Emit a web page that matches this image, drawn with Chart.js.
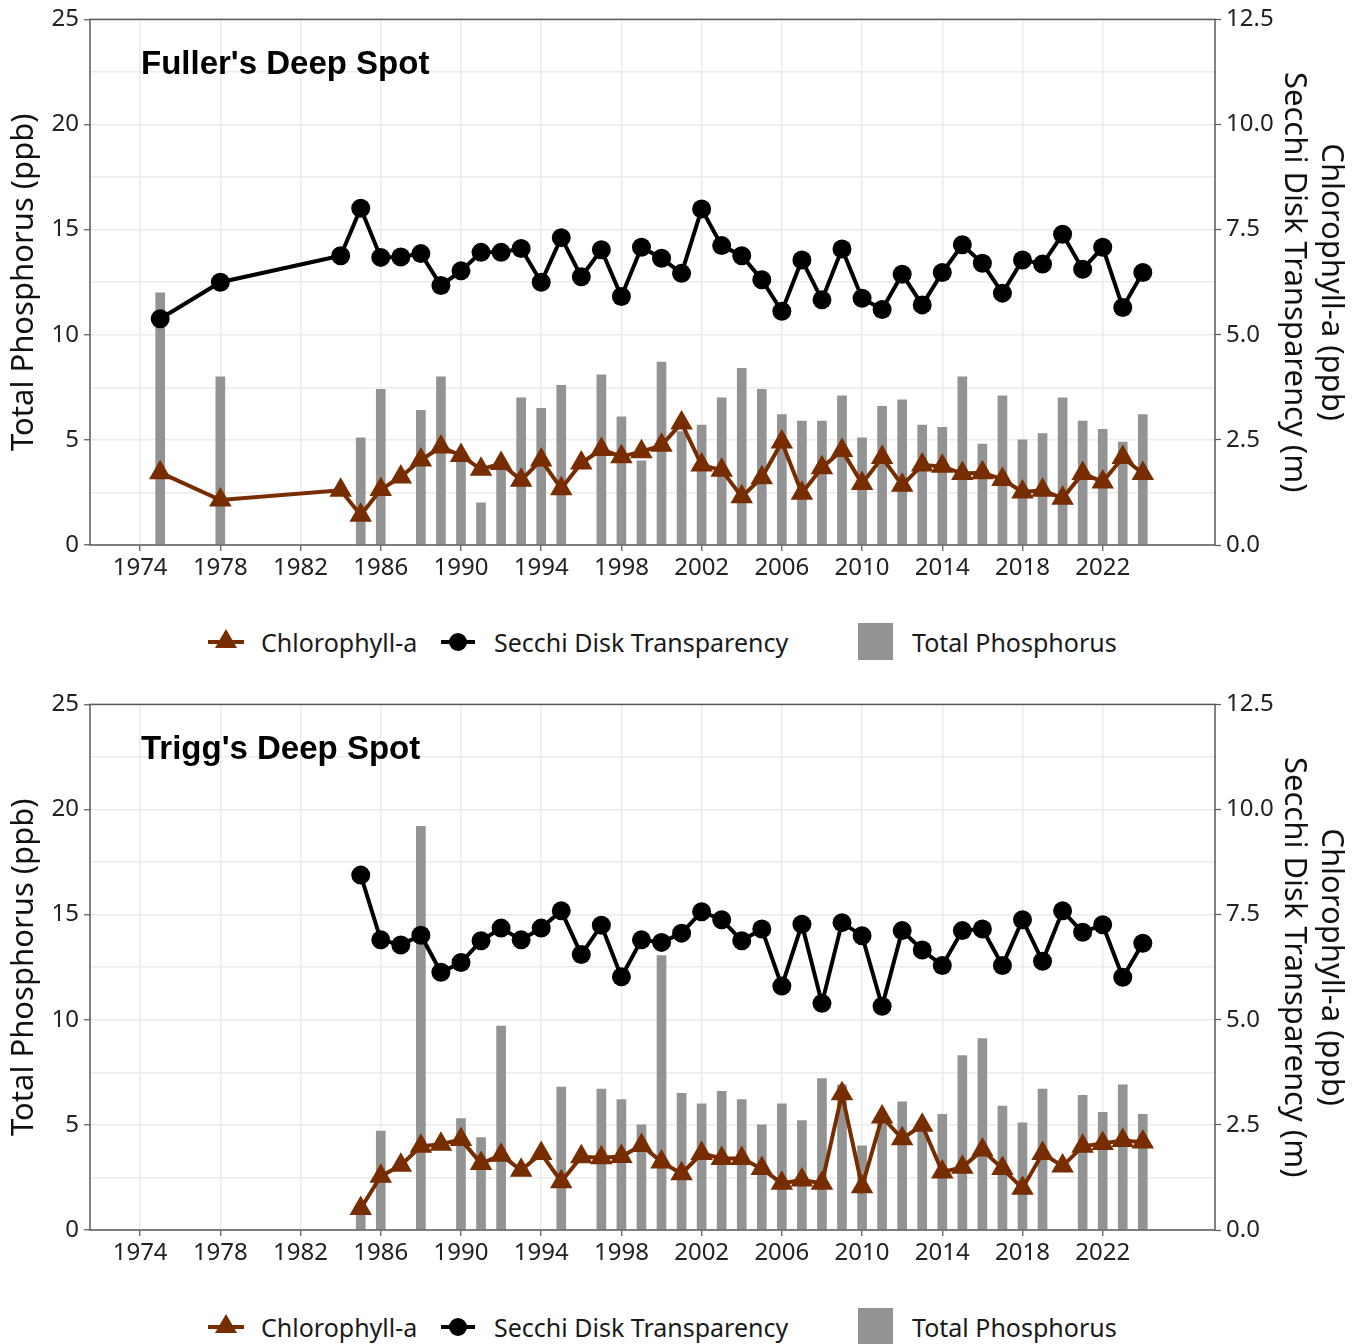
<!DOCTYPE html>
<html>
<head>
<meta charset="utf-8">
<script src="https://cdn.jsdelivr.net/npm/chart.js@4/dist/chart.umd.min.js"></script>
<style>
  body { margin: 0; background: #fff; font-family: "Noto Sans", sans-serif; }
  .panel { position: relative; width: 1356px; }
  .panel canvas { position: absolute; left: 0; top: 0; }
  .legend { position: absolute; left: 0; top: 622px; width: 1356px; height: 40px; font-size: 25px; color: #1a1a1a; }
  .legend span { position: absolute; top: 0; line-height: 40px; white-space: nowrap; }
  .legend svg, .legend div { position: absolute; }
</style>
</head>
<body>

<div class="panel" style="height:685px">
  <canvas id="fuller" width="1356" height="600"></canvas>
  <div class="legend" id="legend1"></div>
</div>
<div class="panel" style="height:659px">
  <canvas id="trigg" width="1356" height="600"></canvas>
  <div class="legend" id="legend2"></div>
</div>

<script>
// axis ticks
const yearTicks = [1974, 1978, 1982, 1986, 1990, 1994, 1998, 2002, 2006, 2010, 2014, 2018, 2022];
const tpTicks = [0, 2.5, 5, 7.5, 10, 12.5, 15, 17.5, 20, 22.5, 25];
const rightTicks = [0, 2.5, 5, 7.5, 10, 12.5];

// Fuller's Deep Spot
const fullerTpYears = [1975, 1978, 1985, 1986, 1988, 1989, 1990, 1991, 1992, 1993, 1994, 1995, 1997, 1998, 1999,
  2000, 2001, 2002, 2003, 2004, 2005, 2006, 2007, 2008, 2009, 2010, 2011, 2012, 2013, 2014, 2015, 2016, 2017,
  2018, 2019, 2020, 2021, 2022, 2023, 2024];
const fullerTp = [12.0, 8.0, 5.1, 7.4, 6.4, 8.0, 4.3, 2.0, 3.7, 7.0, 6.5, 7.6, 8.1, 6.1, 4.0,
  8.7, 5.4, 5.7, 7.0, 8.4, 7.4, 6.2, 5.9, 5.9, 7.1, 5.1, 6.6, 6.9, 5.7, 5.6, 8.0, 4.8, 7.1,
  5.0, 5.3, 7.0, 5.9, 5.5, 4.9, 6.2];
const fullerYears = [1975, 1978, 1984, 1985, 1986, 1987, 1988, 1989, 1990, 1991, 1992, 1993, 1994, 1995, 1996,
  1997, 1998, 1999, 2000, 2001, 2002, 2003, 2004, 2005, 2006, 2007, 2008, 2009, 2010, 2011, 2012, 2013,
  2014, 2015, 2016, 2017, 2018, 2019, 2020, 2021, 2022, 2023, 2024];
const fullerChl = [1.72, 1.07, 1.30, 0.71, 1.32, 1.62, 2.02, 2.33, 2.13, 1.80, 1.94, 1.54, 2.02, 1.34, 1.95,
  2.27, 2.10, 2.22, 2.37, 2.90, 1.90, 1.78, 1.15, 1.60, 2.45, 1.23, 1.84, 2.25, 1.46, 2.08, 1.42, 1.90,
  1.87, 1.70, 1.72, 1.56, 1.26, 1.30, 1.11, 1.70, 1.50, 2.08, 1.70];
const fullerSecchi = [5.38, 6.25, 6.88, 8.01, 6.84, 6.85, 6.93, 6.17, 6.52, 6.96, 6.96, 7.05, 6.25, 7.31, 6.38,
  7.02, 5.91, 7.08, 6.82, 6.46, 7.99, 7.12, 6.88, 6.31, 5.56, 6.78, 5.83, 7.04, 5.87, 5.60, 6.44, 5.71,
  6.48, 7.14, 6.70, 5.99, 6.78, 6.68, 7.39, 6.56, 7.08, 5.65, 6.48];

// Trigg's Deep Spot
const triggTpYears = [1985, 1986, 1988, 1990, 1991, 1992, 1995, 1997, 1998, 1999, 2000, 2001, 2002, 2003, 2004,
  2005, 2006, 2007, 2008, 2009, 2010, 2011, 2012, 2013, 2014, 2015, 2016, 2017, 2018, 2019, 2021, 2022,
  2023, 2024];
const triggTp = [1.0, 4.7, 19.2, 5.3, 4.4, 9.7, 6.8, 6.7, 6.2, 5.0, 13.05, 6.5, 6.0, 6.6, 6.2,
  5.0, 6.0, 5.2, 7.2, 6.9, 4.0, 5.6, 6.1, 4.9, 5.5, 8.3, 9.1, 5.9, 5.1, 6.7, 6.4, 5.6,
  6.9, 5.5];
const triggYears = [1985, 1986, 1987, 1988, 1989, 1990, 1991, 1992, 1993, 1994, 1995, 1996, 1997, 1998, 1999,
  2000, 2001, 2002, 2003, 2004, 2005, 2006, 2007, 2008, 2009, 2010, 2011, 2012, 2013, 2014, 2015, 2016,
  2017, 2018, 2019, 2020, 2021, 2022, 2023, 2024];
const triggChl = [0.51, 1.28, 1.54, 1.99, 2.04, 2.15, 1.58, 1.78, 1.42, 1.82, 1.15, 1.74, 1.72, 1.75, 2.01,
  1.62, 1.34, 1.82, 1.70, 1.70, 1.46, 1.11, 1.19, 1.11, 3.24, 1.03, 2.69, 2.17, 2.49, 1.38, 1.49, 1.90,
  1.46, 0.99, 1.82, 1.52, 1.99, 2.06, 2.13, 2.09];
const triggSecchi = [8.44, 6.90, 6.78, 7.01, 6.13, 6.36, 6.88, 7.18, 6.90, 7.18, 7.59, 6.55, 7.25, 6.02, 6.90,
  6.84, 7.06, 7.57, 7.38, 6.88, 7.16, 5.80, 7.27, 5.39, 7.31, 7.00, 5.32, 7.12, 6.66, 6.29, 7.12, 7.16,
  6.29, 7.38, 6.39, 7.59, 7.08, 7.26, 6.01, 6.82];

const brown = "#782D00";
const grey = "#939393";
const font = "'Noto Sans', sans-serif";

function points(xs, ys) {
  return xs.map((x, i) => ({ x: x, y: ys[i] }));
}

// panel name inside the plot + box around it
const panelPlugin = {
  id: "panel",
  afterDraw(chart, args, opts) {
    let ctx = chart.ctx;
    let a = chart.chartArea;
    ctx.save();
    ctx.strokeStyle = "#5a5a5a";
    ctx.lineWidth = 1.5;
    ctx.strokeRect(a.left, a.top, a.right - a.left, a.bottom - a.top);
    ctx.font = "bold 33px 'Liberation Sans', Arial, sans-serif";
    ctx.fillStyle = "#000";
    ctx.fillText(opts.text, a.left + 51, a.top + 55);
    ctx.restore();
  }
};

function makeChart(id, title, tpYears, tp, years, chl, secchi) {
  let ctx = document.getElementById(id);
  return new Chart(ctx, {
    type: "bar",
    data: {
      datasets: [
        {
          type: "line",
          data: points(years, secchi),
          yAxisID: "y2",
          borderColor: "#000",
          borderWidth: 4,
          pointStyle: "circle",
          pointRadius: 9.5,
          pointBackgroundColor: "#000",
          pointBorderColor: "#000",
          pointBorderWidth: 0,
          tension: 0,
          order: 1,
        },
        {
          type: "line",
          data: points(years, chl),
          yAxisID: "y2",
          borderColor: brown,
          borderWidth: 4,
          pointStyle: "triangle",
          pointRadius: 13,
          pointBackgroundColor: brown,
          pointBorderColor: brown,
          pointBorderWidth: 0,
          tension: 0,
          order: 2,
        },
        {
          data: points(tpYears, tp),
          yAxisID: "y",
          backgroundColor: grey,
          barThickness: 9,
          order: 3,
        },
      ],
    },
    options: {
      responsive: false,
      animation: false,
      devicePixelRatio: 1,
      layout: { padding: { top: 18, left: 0, right: 0, bottom: 0 } },
      plugins: {
        legend: { display: false },
        tooltip: { enabled: false },
        panel: { text: title },
      },
      scales: {
        x: {
          type: "linear",
          min: 1971.5,
          max: 2027.6,
          offset: false,
          afterBuildTicks: s => { s.ticks = yearTicks.map(v => ({ value: v })); },
          afterFit: s => { s.height = 55; },
          ticks: { autoSkip: false, maxRotation: 0, padding: 3, color: "#222", font: { family: font, size: 24 }, callback: v => String(v) },
          grid: { offset: false, color: "#ebebeb", lineWidth: 1.5, tickLength: 6, tickColor: "#555", tickWidth: 1.2 },
          border: { display: false },
        },
        y: {
          position: "left",
          min: 0,
          max: 25,
          afterBuildTicks: s => { s.ticks = tpTicks.map(v => ({ value: v })); },
          afterFit: s => { s.width = 90; },
          ticks: { padding: 5, color: "#222", font: { family: font, size: 24 }, callback: v => (v % 5 === 0 ? String(v) : "") },
          grid: {
            color: "#ebebeb",
            lineWidth: 1.5,
            tickLength: 6,
            tickWidth: 1.2,
            tickColor: c => (c.tick && c.tick.value % 5 === 0 ? "#555" : "rgba(0,0,0,0)"),
          },
          border: { display: false },
          title: { display: true, text: "Total Phosphorus (ppb)", color: "#111", font: { family: font, size: 31, lineHeight: 1.2 }, padding: { top: 6 } },
        },
        y2: {
          position: "right",
          min: 0,
          max: 12.5,
          afterBuildTicks: s => { s.ticks = rightTicks.map(v => ({ value: v })); },
          afterFit: s => { s.width = 141; },
          ticks: { padding: 5, color: "#222", font: { family: font, size: 24 }, callback: v => v.toFixed(1) },
          grid: { drawOnChartArea: false, tickLength: 6, tickWidth: 1.2, color: "#555" },
          border: { display: false },
          title: {
            display: true,
            text: ["Chlorophyll-a (ppb)", "Secchi Disk Transparency (m)"],
            color: "#111",
            font: { family: font, size: 31, lineHeight: 1.19 },
            padding: { top: 7 },
          },
        },
      },
    },
    plugins: [panelPlugin],
  });
}

function legend(id) {
  let el = document.getElementById(id);
  el.innerHTML =
    '<svg style="left:206px;top:0" width="40" height="40">' +
    '<line x1="2" y1="20" x2="38" y2="20" stroke="' + brown + '" stroke-width="4"/>' +
    '<polygon points="20,7 31,26 9,26" fill="' + brown + '"/></svg>' +
    '<span style="left:261px">Chlorophyll-a</span>' +
    '<svg style="left:438px;top:0" width="40" height="40">' +
    '<line x1="3" y1="20" x2="37" y2="20" stroke="#000" stroke-width="4"/>' +
    '<circle cx="20" cy="20" r="9" fill="#000"/></svg>' +
    '<span style="left:494px">Secchi Disk Transparency</span>' +
    '<div style="left:858px;top:1px;width:35px;height:37px;background:' + grey + '"></div>' +
    '<span style="left:912px">Total Phosphorus</span>';
}

makeChart("fuller", "Fuller's Deep Spot", fullerTpYears, fullerTp, fullerYears, fullerChl, fullerSecchi);
makeChart("trigg", "Trigg's Deep Spot", triggTpYears, triggTp, triggYears, triggChl, triggSecchi);
legend("legend1");
legend("legend2");
</script>
</body>
</html>
